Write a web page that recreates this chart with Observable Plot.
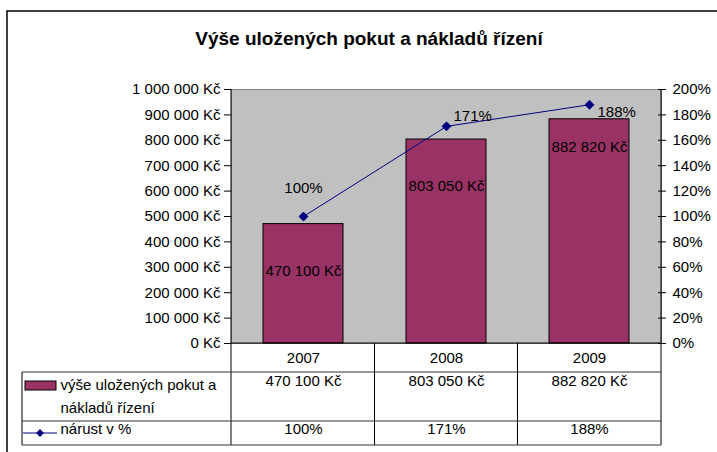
<!DOCTYPE html>
<html><head><meta charset="utf-8">
<script src="https://cdn.jsdelivr.net/npm/d3@7"></script>
<script src="https://cdn.jsdelivr.net/npm/@observablehq/plot@0.6"></script>
<style>
html,body{margin:0;padding:0;background:#fff;}
#chart{position:relative;width:717px;height:452px;overflow:hidden;}
#chart svg{display:block;}
</style></head><body><div id="chart"></div>
<script>
const title = "Výše uložených pokut a nákladů řízení";
const years = ["2007", "2008", "2009"];
const amounts = [470100, 803050, 882820];
const growth = [100, 171, 188];
const seriesNames = ["výše uložených pokut a nákladů řízení", "nárust v %"];
const kcTicks = [0, 100000, 200000, 300000, 400000, 500000, 600000, 700000, 800000, 900000, 1000000];
const pctTicks = [0, 20, 40, 60, 80, 100, 120, 140, 160, 180, 200];

const BAR = "#993366", LINE = "#000080", BG = "#c0c0c0";
const FONT = "'Liberation Sans', Arial, Helvetica, sans-serif";
const KC_MAX = 1000000, PCT_MAX = 200;
const toLeft = p => p / PCT_MAX * KC_MAX;

const rows = years.map((year, i) => ({year, amount: amounts[i], growth: growth[i]}));
const locale = d3.formatLocale({decimal: ",", thousands: "\u00a0", grouping: [3], currency: ["", "\u00a0Kč"]});
const fmtKc = locale.format("$,.0f");
const fmtPct = p => p + "%";

const plot = Plot.plot({
  width: 717, height: 452,
  marginLeft: 231, marginRight: 56, marginTop: 89, marginBottom: 109,
  style: {fontFamily: FONT, fontSize: "15px", color: "#000", background: "transparent", overflow: "visible"},
  x: {domain: years, paddingInner: 0.44, paddingOuter: 0.22, axis: null},
  y: {domain: [0, KC_MAX], axis: null},
  marks: [
    Plot.frame({fill: BG, stroke: "#808080"}),
    Plot.barY(rows, {x: "year", y: "amount", fill: BAR, stroke: "#000", strokeWidth: 1}),
    Plot.axisY({ticks: kcTicks, tickFormat: fmtKc, tickSize: 7, tickPadding: 4, fontSize: 15, stroke: "#000", label: null}),
    Plot.axisY({anchor: "right", ticks: pctTicks.map(toLeft), tickFormat: v => fmtPct(Math.round(v / KC_MAX * PCT_MAX)), tickSize: 8, dx: -4, tickPadding: 7, fontSize: 15, label: null}),
    Plot.axisX({tickSize: 0, tickPadding: 9, fontSize: 15, label: null}),
    Plot.line(rows, {x: "year", y: d => toLeft(d.growth), stroke: LINE, strokeWidth: 1}),
    Plot.dot(rows, {x: "year", y: d => toLeft(d.growth), symbol: "diamond2", r: 4, fill: LINE, stroke: LINE, strokeWidth: 1}),
    // bar value labels
    Plot.text(rows, {filter: d => d.year !== "2009", x: "year", y: "amount", text: d => fmtKc(d.amount), dy: 47, fontSize: 15, fill: "#000"}),
    Plot.text(rows, {filter: d => d.year === "2009", x: "year", y: "amount", text: d => fmtKc(d.amount), dy: 28, fontSize: 15, fill: "#000"}),
    // line value labels
    Plot.text(rows, {filter: d => d.year === "2007", x: "year", y: d => toLeft(d.growth), text: d => fmtPct(d.growth), dy: -28, fontSize: 15, fill: "#000"}),
    Plot.text(rows, {filter: d => d.year === "2008", x: "year", y: d => toLeft(d.growth), text: d => fmtPct(d.growth), dx: 7, dy: -10, textAnchor: "start", fontSize: 15, fill: "#000"}),
    Plot.text(rows, {filter: d => d.year === "2009", x: "year", y: d => toLeft(d.growth), text: d => fmtPct(d.growth), dx: 8, dy: 7, textAnchor: "start", fontSize: 15, fill: "#000"}),
    // data table rows
    Plot.text(rows, {x: "year", text: d => fmtKc(d.amount), frameAnchor: "bottom", dy: 42, fontSize: 15, fill: "#000"}),
    Plot.text(rows, {x: "year", text: d => fmtPct(d.growth), frameAnchor: "bottom", dy: 90, fontSize: 15, fill: "#000"}),
    // legend labels in table
    Plot.text([seriesNames[0]], {text: d => d, frameAnchor: "bottom-left", dx: -171, dy: 69.5, textAnchor: "start", lineWidth: 12, lineHeight: 1.53, fontSize: 15, fill: "#000"}),
    Plot.text([seriesNames[1]], {text: d => d, frameAnchor: "bottom-left", dx: -171, dy: 90, textAnchor: "start", fontSize: 15, fill: "#000"})
  ]
});
document.getElementById("chart").appendChild(plot);

// decorations: outer frame, title, table grid, legend keys
const svg = d3.select(plot);
const xs = plot.scale("x");
const L = 231, R = 661, T = 89, B = 343;
const bounds = [];
years.forEach((y, i) => { const s = xs.apply(y) - (xs.step - xs.bandwidth) / 2; bounds.push(s); if (i === years.length - 1) bounds.push(s + xs.step); });

const deco = svg.append("g").attr("fill", "none").attr("stroke", "#000");
deco.append("rect").attr("x", 7).attr("y", 11).attr("width", 760).attr("height", 480).attr("stroke-width", 1.5);
// axis / plot edges
deco.append("line").attr("x1", L).attr("x2", L).attr("y1", T).attr("y2", 445);
deco.append("line").attr("x1", R).attr("x2", R).attr("y1", T).attr("y2", 445);
deco.append("line").attr("x1", L).attr("x2", R).attr("y1", B).attr("y2", B);
// table verticals
bounds.slice(1, -1).forEach(b => deco.append("line").attr("x1", b).attr("x2", b).attr("y1", B).attr("y2", 445));
deco.append("line").attr("x1", 22).attr("x2", 22).attr("y1", 372).attr("y2", 445);
[372, 421, 445].forEach(yy => deco.append("line").attr("x1", 22).attr("x2", R).attr("y1", yy).attr("y2", yy).attr("stroke", "#333"));

// legend keys
svg.append("rect").attr("x", 25).attr("y", 381).attr("width", 31).attr("height", 9).attr("fill", BAR).attr("stroke", "#000");
svg.append("line").attr("x1", 23).attr("x2", 57).attr("y1", 433).attr("y2", 433).attr("stroke", LINE).attr("stroke-width", 1.2);
svg.append("path").attr("d", d3.symbol(d3.symbolDiamond2, 40)()).attr("transform", "translate(40,433)").attr("fill", LINE);

// title
svg.append("text").attr("x", 369).attr("y", 38).attr("dy", "0.35em").attr("text-anchor", "middle")
  .attr("font-family", FONT).attr("font-weight", "bold").attr("font-size", 19).attr("fill", "#000").text(title);
</script></body></html>
